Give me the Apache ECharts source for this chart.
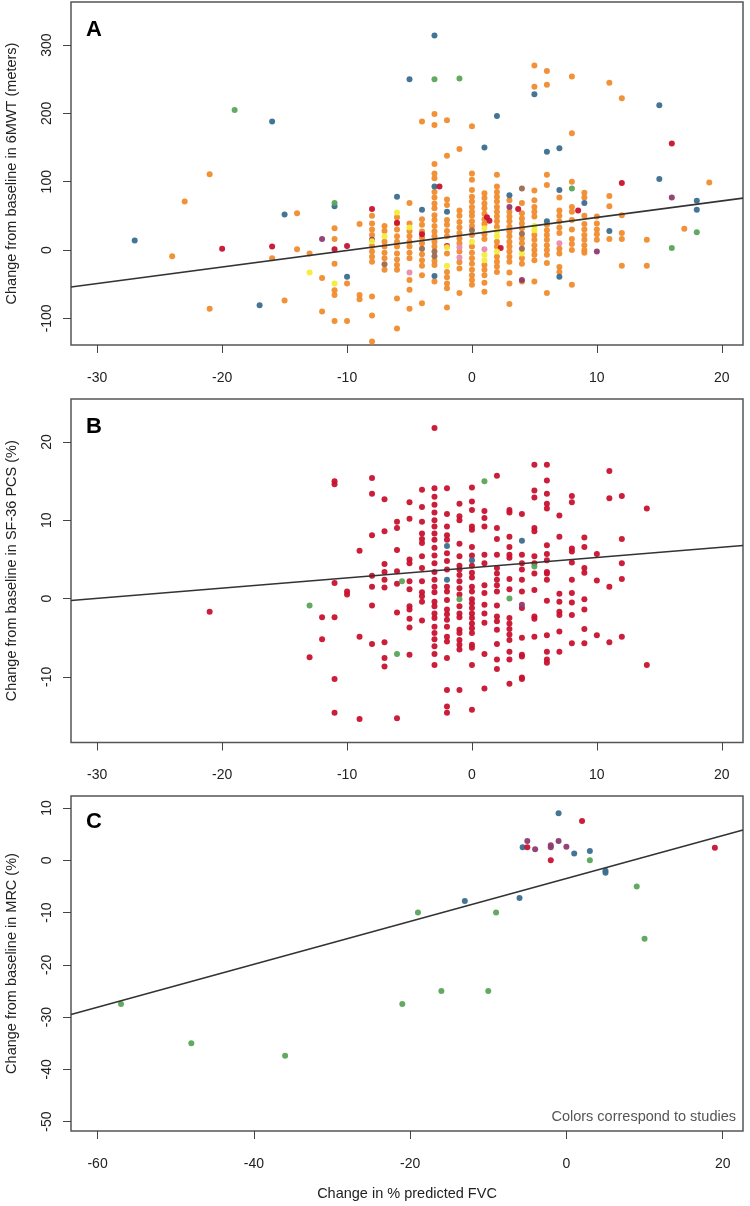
<!DOCTYPE html>
<html><head><meta charset="utf-8">
<script src="https://cdn.jsdelivr.net/npm/echarts@6/dist/echarts.min.js"></script>
<style>html,body{margin:0;padding:0;background:#fff}#c{width:750px;height:1206px}</style>
</head><body><div id="c"></div>
<script>
// ---------- Panel A: 6MWT ----------
const aOrange = [
[-24,-9],[-23,71],[-21,111],[-21,-86],[-16,-12],[-15,-74],[-14,54],[-14,1],[-13,-5],[-12,-41],[-12,-90],
[-11,32],[-11,16],[-11,-20],[-11,-59],[-11,-66],[-11,-104],
[-10,-49],[-10,-104],
[-9,38],[-9,-66],[-9,-72],
[-8,50],[-8,39],[-8,30],[-8,22],[-8,6],[-8,-2],[-8,-10],[-8,-17],[-8,-68],[-8,-96],[-8,-134],
[-7,35],[-7,28],[-7,12],[-7,5],[-7,-4],[-7,-12],[-7,-29],
[-6,48],[-6,39],[-6,30],[-6,20],[-6,12],[-6,5],[-6,-5],[-6,-14],[-6,-22],[-6,-29],[-6,-71],[-6,-115],
[-5,69],[-5,39],[-5,28],[-5,20],[-5,12],[-5,5],[-5,-4],[-5,-12],[-5,-44],[-5,-58],[-5,-86],
[-4,188],[-4,45],[-4,37],[-4,27],[-4,18],[-4,10],[-4,-6],[-4,-15],[-4,-23],[-4,-37],[-4,-78],
[-3,199],[-3,183],[-3,126],[-3,112],[-3,105],[-3,85],[-3,77],[-3,68],[-3,61],[-3,51],[-3,44],[-3,35],[-3,27],[-3,20],[-3,12],[-3,5],[-3,-16],[-3,-22],[-3,-46],
[-2,190],[-2,138],[-2,74],[-2,66],[-2,44],[-2,37],[-2,28],[-2,20],[-2,-5],[-2,-32],[-2,-40],[-2,-49],[-2,-56],[-2,-84],
[-1,148],[-1,58],[-1,50],[-1,41],[-1,33],[-1,25],[-1,17],[-1,10],[-1,-2],[-1,-18],[-1,-27],[-1,-63],
[0,181],[0,112],[0,103],[0,88],[0,78],[0,71],[0,63],[0,56],[0,50],[0,42],[0,35],[0,22],[0,5],[0,-4],[0,-12],[0,-20],[0,-29],[0,-37],[0,-44],[0,-51],
[1,83],[1,76],[1,68],[1,61],[1,53],[1,45],[1,38],[1,23],[1,16],[1,-22],[1,-29],[1,-37],[1,-48],[1,-61],
[2,110],[2,93],[2,85],[2,78],[2,71],[2,63],[2,56],[2,49],[2,42],[2,34],[2,12],[2,5],[2,-10],[2,-17],[2,-24],[2,-32],
[3,73],[3,56],[3,49],[3,42],[3,34],[3,27],[3,20],[3,12],[3,5],[3,-2],[3,-10],[3,-17],[3,-33],[3,-49],[3,-79],
[4,69],[4,54],[4,46],[4,39],[4,32],[4,17],[4,10],[4,-12],[4,-20],[4,-46],
[5,270],[5,239],[5,87],[5,73],[5,63],[5,56],[5,49],[5,22],[5,15],[5,7],[5,0],[5,-7],[5,-15],[5,-46],
[6,262],[6,242],[6,110],[6,95],[6,37],[6,29],[6,22],[6,15],[6,7],[6,0],[6,-7],[6,-19],[6,-63],
[7,77],[7,58],[7,50],[7,42],[7,33],[7,25],[7,2],[7,-5],[7,-25],[7,-32],
[8,254],[8,171],[8,100],[8,63],[8,56],[8,44],[8,30],[8,16],[8,9],[8,0],[8,-51],
[9,84],[9,77],[9,50],[9,38],[9,30],[9,22],[9,15],[9,7],[9,0],[9,-4],
[10,49],[10,39],[10,30],[10,23],[10,15],
[11,245],[11,79],[11,64],[11,16],
[12,222],[12,51],[12,25],[12,16],[12,-23],
[14,15],[14,-23],[17,31],[19,99]
];
const aBlue = [[-27,14],[-17,-81],[-16,188],[-15,52],[-11,64],[-10,-39],[-6,78],[-5,250],[-4,59],[-3,314],[-3,93],[-3,-38],[-2,56],[1,150],[2,196],[5,228],[3,80],[6,144],[6,42],[7,149],[7,88],[7,-39],[9,69],[11,28],[15,212],[15,104],[18,72],[18,59]];
const aGreen = [[-19,205],[-3,250],[-1,251],[-11,69],[8,90],[18,26],[16,3]];
const aRed = [[-20,2],[-16,5],[-11,1],[-10,6],[-8,60],[-6,40],[-4,23],[-2.6,93],[-2,6],[1.2,48],[1.4,43],[2.3,3],[3.7,60],[8.5,58],[12,98],[16,156]];
const aPurple = [[-12,16],[-8,15],[3,63],[4,-44],[10,-2],[16,77]];
const aYellow = [[-13,-33],[-11,-49],[-8,13],[-7,20],[-6,55],[-5,33],[-2,4],[-2,-23],[0,12],[1,32],[1,-7],[1,-15],[2,27],[2,20],[2,-2],[4,-5],[5,35],[5,29]];
const aPink = [[-5,-33],[-1,4],[-1,-11],[1,1],[7,10]];
const aBrown = [[-7,-21],[-4,2],[-3,-2],[-3,-9],[0,29],[4,90],[4,24],[4,2]];
const aFit = [[-32.1,-54],[21.7,76]];

// ---------- Panel B: SF-36 PCS ----------
const bRed = [
[-21,-1.7],[-13,-7.5],[-12,-2.4],[-12,-5.2],
[-11,15.0],[-11,14.6],[-11,2.0],[-11,-2.4],[-11,-10.3],[-11,-14.6],
[-10,0.9],[-10,0.5],
[-9,6.1],[-9,-4.9],[-9,-15.4],
[-8,15.4],[-8,13.4],[-8,8.1],[-8,2.9],[-8,1.5],[-8,-0.9],[-8,-5.8],
[-7,12.7],[-7,8.6],[-7,4.4],[-7,3.4],[-7,2.4],[-7,1.4],[-7,-5.6],[-7,-7.6],[-7,-8.7],
[-6,9.8],[-6,9.0],[-6,6.2],[-6,3.5],[-6,1.9],[-6,-1.8],[-6,-15.3],
[-5,12.3],[-5,10.2],[-5,5.0],[-5,4.5],[-5,2.2],[-5,1.2],[-5,-1.0],[-5,-1.4],[-5,-2.6],[-5,-3.7],[-5,-7.2],
[-4,13.9],[-4,11.7],[-4,9.8],[-4,8.3],[-4,7.6],[-4,7.1],[-4,5.4],[-4,3.9],[-4,2.2],[-4,0.8],[-4,0.3],[-4,-0.4],[-4,-2.8],
[-3,21.8],[-3,14.1],[-3,13.0],[-3,12.0],[-3,11.0],[-3,10.0],[-3,9.2],[-3,8.3],[-3,7.5],[-3,6.5],[-3,5.5],[-3,4.5],[-3,3.4],[-3,2.4],[-3,1.5],[-3,0.8],[-3,-0.4],[-3,-1.0],[-3,-1.9],[-3,-2.5],[-3,-3.6],[-3,-4.4],[-3,-5.2],[-3,-6.1],[-3,-7.1],[-3,-8.5],
[-2,14.1],[-2,10.8],[-2,9.2],[-2,8.1],[-2,7.5],[-2,5.8],[-2,4.8],[-2,3.7],[-2,1.5],[-2,0.9],[-2,-0.2],[-2,-1.4],[-2,-2.0],[-2,-2.7],[-2,-3.6],[-2,-4.9],[-2,-5.5],[-2,-7.6],[-2,-11.7],[-2,-13.8],[-2,-14.6],
[-1,12.1],[-1,10.5],[-1,10.0],[-1,7.0],[-1,5.4],[-1,4.2],[-1,3.7],[-1,3.0],[-1,2.2],[-1,1.3],[-1,0.5],[-1,-1.0],[-1,-1.9],[-1,-2.4],[-1,-4.0],[-1,-4.4],[-1,-5.3],[-1,-5.9],[-1,-6.5],[-1,-11.7],
[0,14.2],[0,12.4],[0,11.3],[0,9.2],[0,8.8],[0,6.6],[0,5.5],[0,4.2],[0,3.3],[0,2.7],[0,1.5],[0,0.9],[0,-0.1],[0,-0.6],[0,-1.2],[0,-1.9],[0,-2.5],[0,-3.2],[0,-3.8],[0,-4.4],[0,-5.9],[0,-6.3],[0,-8.5],[0,-14.2],
[1,11.2],[1,10.3],[1,9.2],[1,5.6],[1,4.5],[1,1.7],[1,0.7],[1,-0.8],[1,-1.9],[1,-3.1],[1,-7.1],[1,-11.5],
[2,15.7],[2,9.0],[2,7.6],[2,5.6],[2,3.9],[2,3.2],[2,2.4],[2,1.7],[2,0.9],[2,-0.9],[2,-2.3],[2,-2.9],[2,-4.0],[2,-5.8],[2,-7.8],[2,-9.0],
[3,11.3],[3,11.0],[3,7.9],[3,6.6],[3,5.6],[3,5.2],[3,2.5],[3,1.2],[3,-2.5],[3,-3.2],[3,-3.9],[3,-4.6],[3,-5.3],[3,-6.8],[3,-7.8],[3,-10.9],
[4,10.8],[4,5.6],[4,4.5],[4,3.7],[4,2.4],[4,0.9],[4,-1.2],[4,-5.0],[4,-7.2],[4,-7.4],[4,-10.1],[4,-10.3],
[5,17.1],[5,13.8],[5,12.9],[5,9.0],[5,8.6],[5,5.4],[5,4.5],[5,3.2],[5,1.1],[5,-2.3],[5,-2.6],[5,-4.9],
[6,17.1],[6,15.1],[6,13.4],[6,12.1],[6,11.5],[6,6.8],[6,5.7],[6,4.9],[6,3.4],[6,3.2],[6,2.4],[6,-0.3],[6,-4.7],[6,-6.8],[6,-7.8],[6,-8.2],
[7,10.6],[7,7.9],[7,0.6],[7,-0.4],[7,-1.7],[7,-2.1],[7,-4.2],[7,-6.8],
[8,13.1],[8,12.3],[8,6.4],[8,6.0],[8,4.6],[8,2.4],[8,0.7],[8,-0.5],[8,-2.1],[8,-5.7],
[9,7.8],[9,6.6],[9,3.9],[9,3.3],[9,-0.1],[9,-1.4],[9,-3.9],[9,-5.7],
[10,5.7],[10,2.3],[10,-4.7],
[11,16.3],[11,12.8],[11,1.5],[11,-5.6],
[12,13.1],[12,7.6],[12,4.5],[12,2.5],[12,-4.9],
[14,11.5],[14,-8.5]
];
const bBlue = [[-2,6.7],[-2,2.4],[0,4.9],[4,7.4]];
const bPurple = [[4,-0.8]];
const bGreen = [[-13,-0.9],[-5.6,2.2],[-6,-7.1],[1,15],[3,0],[5,4.1],[-1,-0.1]];
const bFit = [[-32.1,-0.26],[21.7,6.77]];

// ---------- Panel C: MRC ----------
const cGreen = [[-57,-27.5],[-48,-35],[-36,-37.4],[-21,-27.5],[-19,-10],[-16,-25],[-10,-25],[-9,-10],[3,0],[9,-5],[10,-15]];
const cBlue = [[-13,-7.8],[-6,-7.2],[-5.6,2.5],[-1,9],[1,1.3],[3,1.8],[5,-2],[5,-2.4]];
const cPurple = [[-5,3.7],[-4,2.1],[-2,2.9],[-2,2.5],[-1,3.7],[0,2.6]];
const cRed = [[-5,2.5],[-2,0],[2,7.5],[19,2.4]];
const cFit = [[-63.4,-29.5],[22.6,5.8]];

// ---------- ticks ----------
const xTicksAB = [-30,-20,-10,0,10,20];
const yTicksA = [-100,0,100,200,300];
const yTicksB = [-10,0,10,20];
const xTicksC = [-60,-40,-20,0,20];
const yTicksC = [-50,-40,-30,-20,-10,0,10];

const yTitleA = 'Change from baseline in 6MWT (meters)';
const yTitleB = 'Change from baseline in SF-36 PCS (%)';
const yTitleC = 'Change from baseline in MRC (%)';
const xTitleC = 'Change in % predicted FVC';
const noteC = 'Colors correspond to studies';

const FONT = "'Liberation Sans', Arial, Helvetica, sans-serif";
const COL = {orange:'#F08C2E', blue:'#3B6E8F', green:'#5AA55A', red:'#C8122F', purple:'#8E3B6E', yellow:'#F2EC3A', pink:'#E98AAE', brown:'#9B6B4F'};

const grids = [
  {left:71, right:7, top:2, height:343},
  {left:71, right:7, top:399, height:343.5},
  {left:71, right:7, top:796, height:335}
].map(g => Object.assign(g, {show:true, borderColor:'#555', borderWidth:1.5, backgroundColor:'transparent',
  containLabel:false, outerBoundsMode:'none'}));

function xAx(i, min, max, ticks, name) {
  return {type:'value', gridIndex:i, min, max, position:'bottom',
    axisLine:{show:false, onZero:false}, splitLine:{show:false},
    axisTick:{show:true, length:8, customValues:ticks, lineStyle:{color:'#444', width:1}},
    axisLabel:{customValues:ticks, margin:26, fontSize:14, color:'#222', fontFamily:FONT},
    name:name||'', nameLocation:'middle', nameGap:55, nameTextStyle:{fontSize:14.5, color:'#222', fontFamily:FONT}};
}
function yAx(i, min, max, ticks, name) {
  return {type:'value', gridIndex:i, min, max, position:'left',
    axisLine:{show:false, onZero:false}, splitLine:{show:false},
    axisTick:{show:true, length:8, customValues:ticks, lineStyle:{color:'#444', width:1}},
    axisLabel:{customValues:ticks, rotate:90, margin:17, fontSize:14, color:'#222', fontFamily:FONT},
    name, nameLocation:'middle', nameGap:52, nameTextStyle:{fontSize:14.5, color:'#222', fontFamily:FONT}};
}
function sc(i, data, color) {
  return {type:'scatter', xAxisIndex:i, yAxisIndex:i, data, symbol:'circle', symbolSize:6,
    itemStyle:{color, opacity:0.95}, silent:true, z:2};
}
function fit(i, data) {
  return {type:'line', xAxisIndex:i, yAxisIndex:i, data, symbol:'none', clip:true,
    lineStyle:{color:'#333', width:1.6}, silent:true, z:5};
}

const chart = echarts.init(document.getElementById('c'), null, {renderer:'canvas'});
chart.setOption({
  animation:false,
  backgroundColor:'#fff',
  grid: grids,
  xAxis: [xAx(0,-32.1,21.7,xTicksAB), xAx(1,-32.1,21.7,xTicksAB), xAx(2,-63.4,22.6,xTicksC,xTitleC)],
  yAxis: [yAx(0,-139,363,yTicksA,yTitleA), yAx(1,-18.4,25.5,yTicksB,yTitleB), yAx(2,-51.8,12.3,yTicksC,yTitleC)],
  series: [
    sc(0,aOrange,COL.orange), sc(0,aBlue,COL.blue), sc(0,aGreen,COL.green), sc(0,aRed,COL.red),
    sc(0,aPurple,COL.purple), sc(0,aYellow,COL.yellow), sc(0,aPink,COL.pink), sc(0,aBrown,COL.brown),
    fit(0,aFit),
    sc(1,bRed,COL.red), sc(1,bBlue,COL.blue), sc(1,bPurple,COL.purple), sc(1,bGreen,COL.green),
    fit(1,bFit),
    sc(2,cGreen,COL.green), sc(2,cBlue,COL.blue), sc(2,cPurple,COL.purple), sc(2,cRed,COL.red),
    fit(2,cFit)
  ],
  graphic: [
    {type:'text', left:86, top:19, style:{text:'A', font:'bold 22px '+FONT, fill:'#000'}},
    {type:'text', left:86, top:416, style:{text:'B', font:'bold 22px '+FONT, fill:'#000'}},
    {type:'text', left:86, top:811, style:{text:'C', font:'bold 22px '+FONT, fill:'#000'}},
    {type:'text', right:14, top:1109, style:{text:noteC, font:'14.5px '+FONT, fill:'#555'}}
  ]
});
</script></body></html>
